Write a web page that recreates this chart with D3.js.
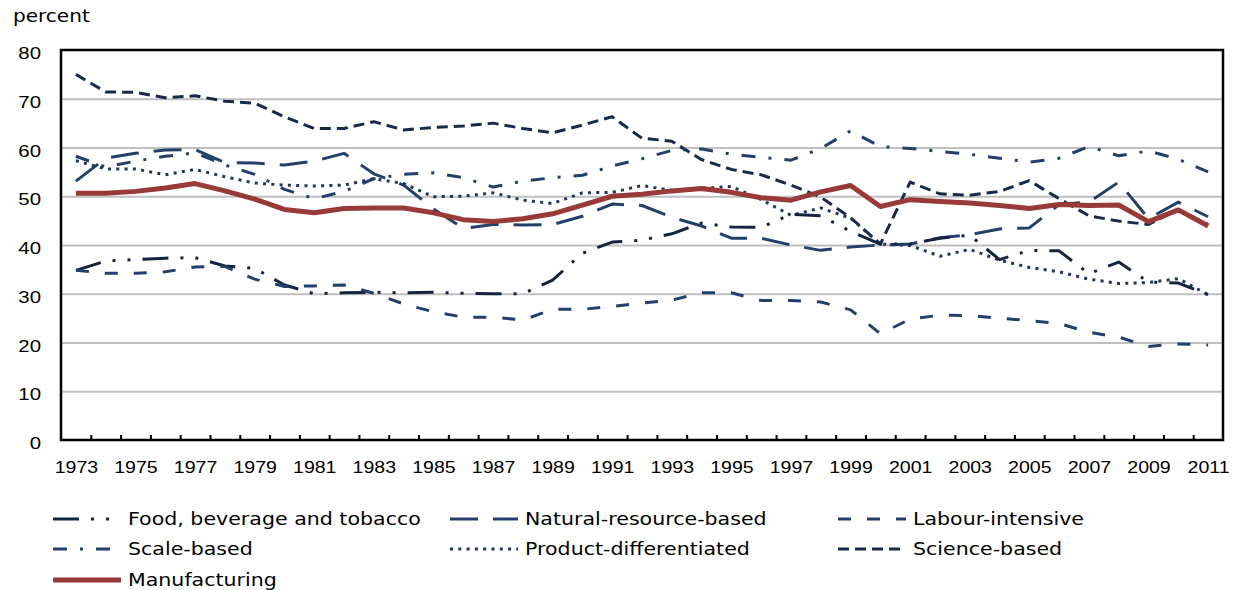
<!DOCTYPE html>
<html>
<head>
<meta charset="utf-8">
<script src="https://cdn.jsdelivr.net/npm/d3@7"></script>
<style>
  body { margin: 0; background: #fff; }
  svg { font-family: "DejaVu Sans", Verdana, sans-serif; }
  text { fill: #000; }
  .sx-l { transform-box: fill-box; transform-origin: 0 50%; transform: scaleX(1.18); }
  .sx-g { transform-box: fill-box; transform-origin: 0 50%; transform: scaleX(1.21); }
  .sx-c { transform-box: fill-box; transform-origin: 50% 50%; transform: scaleX(1.15); }
  .sx-r { transform-box: fill-box; transform-origin: 100% 50%; transform: scaleX(1.2); }
</style>
</head>
<body>
<svg id="chart" width="1234" height="590"></svg>
<script>
const years = [1973, 1974, 1975, 1976, 1977, 1978, 1979, 1980, 1981, 1982,
  1983, 1984, 1985, 1986, 1987, 1988, 1989, 1990, 1991, 1992,
  1993, 1994, 1995, 1996, 1997, 1998, 1999, 2000, 2001, 2002,
  2003, 2004, 2005, 2006, 2007, 2008, 2009, 2010, 2011];

const yearLabels = [1973, 1975, 1977, 1979, 1981, 1983, 1985, 1987, 1989, 1991,
  1993, 1995, 1997, 1999, 2001, 2003, 2005, 2007, 2009, 2011];
const yTicks = [0, 10, 20, 30, 40, 50, 60, 70, 80];

// percent, one value per year
const food = [34.8, 36.7, 37.0, 37.3, 37.4, 35.7, 35.2, 31.8, 30.0, 30.2,
  30.3, 30.2, 30.3, 30.1, 30.0, 30.0, 32.8, 38.3, 40.6, 41.0,
  42.3, 44.5, 43.7, 43.6, 46.3, 46.0, 42.8, 40.2, 40.2, 41.4,
  42.0, 37.0, 38.9, 38.8, 34.1, 36.5, 32.4, 32.2, 29.8];
const naturalRes = [53.1, 57.8, 58.8, 59.5, 59.6, 56.9, 56.8, 56.4, 57.2, 58.8,
  54.6, 52.3, 47.4, 43.4, 44.2, 44.1, 44.2, 45.9, 48.4, 48.1,
  45.7, 43.9, 41.4, 41.4, 40.0, 38.9, 39.6, 40.0, 40.2, 41.5,
  42.1, 43.3, 43.5, 48.3, 48.8, 52.9, 45.4, 48.8, 45.8];
const labour = [34.8, 34.2, 34.2, 34.5, 35.5, 35.6, 33.0, 31.5, 31.6, 31.8,
  30.1, 27.9, 26.3, 25.2, 25.2, 24.6, 26.8, 26.8, 27.4, 28.1,
  28.7, 30.2, 30.2, 28.6, 28.6, 28.3, 26.7, 21.8, 24.8, 25.6,
  25.5, 25.0, 24.5, 23.9, 22.1, 21.1, 19.2, 19.7, 19.5];
const scaleBased = [58.2, 56.0, 57.2, 58.2, 58.9, 56.4, 54.5, 51.4, 49.5, 51.0,
  53.6, 54.5, 54.8, 53.8, 51.9, 53.1, 53.8, 54.3, 56.2, 57.7,
  59.4, 59.7, 58.6, 58.0, 57.4, 59.8, 63.4, 60.2, 59.8, 59.2,
  58.6, 57.8, 57.0, 57.8, 60.2, 58.3, 59.3, 57.6, 55.0];
const productDiff = [57.3, 55.6, 55.6, 54.4, 55.5, 54.0, 52.7, 52.3, 52.1, 52.3,
  53.6, 52.6, 49.9, 50.0, 50.7, 49.2, 48.5, 50.7, 50.8, 52.2,
  51.2, 51.6, 52.0, 49.3, 46.1, 47.6, 45.5, 40.2, 39.9, 37.7,
  39.1, 36.9, 35.4, 34.5, 33.0, 32.1, 32.3, 33.1, 29.8];
const science = [75.0, 71.4, 71.3, 70.2, 70.6, 69.5, 69.1, 66.3, 63.9, 63.9,
  65.3, 63.6, 64.1, 64.4, 65.0, 63.9, 63.0, 64.6, 66.3, 61.9,
  61.3, 57.5, 55.5, 54.4, 52.3, 49.8, 45.6, 40.2, 52.9, 50.5,
  50.2, 51.0, 53.2, 49.5, 46.0, 44.9, 44.2, 47.3, 44.2];
const manufacturing = [50.6, 50.6, 51.0, 51.7, 52.6, 51.1, 49.4, 47.3, 46.6, 47.5,
  47.6, 47.6, 46.6, 45.2, 44.8, 45.4, 46.4, 48.2, 50.0, 50.4,
  51.1, 51.6, 50.8, 49.7, 49.2, 50.9, 52.2, 47.9, 49.3, 48.9,
  48.6, 48.1, 47.5, 48.3, 48.1, 48.2, 44.8, 47.2, 43.9];

const series = [
  { name: 'Science-based', values: science, color: '#172a4a', width: 3, dash: '11,6', col: 2, row: 1 },
  { name: 'Scale-based', values: scaleBased, color: '#22406a', width: 3, dash: '14,13,3,13', col: 0, row: 1 },
  { name: 'Natural-resource-based', values: naturalRes, color: '#22406a', width: 3, dash: '28,15', col: 1, row: 0 },
  { name: 'Product-differentiated', values: productDiff, color: '#1c3660', width: 3, dash: '3,5.3', col: 1, row: 1 },
  { name: 'Food, beverage and tobacco', values: food, color: '#14243f', width: 3, dash: '26,12,3,12,3,12', col: 0, row: 0 },
  { name: 'Labour-intensive', values: labour, color: '#22406a', width: 3, dash: '13,16', col: 2, row: 0 },
  { name: 'Manufacturing', values: manufacturing, color: '#983a37', width: 5, dash: null, col: 0, row: 2 },
];

const svg = d3.select('#chart');
const plot = { left: 61, right: 1223, top: 50, bottom: 440 };

const xScale = d3.scaleLinear()
  .domain([years[0] - 0.5, years[years.length - 1] + 0.5])
  .range([plot.left, plot.right]);
const yScale = d3.scaleLinear().domain([0, 80]).range([plot.bottom, plot.top]);

// gridlines
svg.append('g')
  .attr('transform', `translate(${plot.left},0)`)
  .call(d3.axisLeft(yScale).tickValues(yTicks.filter(d => d > 0 && d < 80))
    .tickSize(-(plot.right - plot.left)).tickFormat(''))
  .call(g => g.select('.domain').remove())
  .selectAll('line').attr('stroke', '#c0c0c0').attr('stroke-width', 2);

// y labels
svg.append('g')
  .attr('transform', `translate(${plot.left},0)`)
  .call(d3.axisLeft(yScale).tickValues(yTicks).tickSize(0).tickPadding(20))
  .call(g => g.select('.domain').remove())
  .selectAll('text')
  .attr('font-size', 17).attr('font-family', null).attr('dy', '0.5em')
  .attr('class', 'sx-r');

// x tick marks at year boundaries, pointing inward
svg.append('g')
  .attr('transform', `translate(0,${plot.bottom})`)
  .call(d3.axisBottom(xScale).tickValues(years.slice(1).map(d => d - 0.5))
    .tickSize(-5).tickFormat(''))
  .call(g => g.select('.domain').remove())
  .selectAll('line').attr('stroke', '#000').attr('stroke-width', 2);

// x labels
svg.append('g')
  .attr('transform', `translate(0,${plot.bottom})`)
  .call(d3.axisBottom(xScale).tickValues(yearLabels).tickSize(0).tickPadding(21)
    .tickFormat(d3.format('d')))
  .call(g => g.select('.domain').remove())
  .selectAll('text')
  .attr('font-size', 17).attr('font-family', null)
  .attr('class', 'sx-c');

svg.append('text')
  .attr('x', 13).attr('y', 22)
  .attr('font-size', 17)
  .attr('class', 'sx-l')
  .text('percent');

// series lines
const line = d3.line()
  .x((d, i) => xScale(years[i]))
  .y(d => yScale(d));

svg.append('g').selectAll('path')
  .data(series)
  .join('path')
  .attr('d', d => line(d.values))
  .attr('fill', 'none')
  .attr('stroke', d => d.color)
  .attr('stroke-width', d => d.width)
  .attr('stroke-dasharray', d => d.dash)
  .attr('stroke-linejoin', 'round');

// frame
svg.append('rect')
  .attr('x', plot.left).attr('y', plot.top)
  .attr('width', plot.right - plot.left).attr('height', plot.bottom - plot.top)
  .attr('fill', 'none').attr('stroke', '#000').attr('stroke-width', 2.5);

// legend
const colX = [53, 450, 838];
const rowY = [519, 549, 580];
const legend = svg.append('g').selectAll('g')
  .data(series)
  .join('g')
  .attr('transform', d => `translate(${colX[d.col]},${rowY[d.row]})`);

legend.append('line')
  .attr('x1', 0).attr('x2', 68)
  .attr('stroke', d => d.color)
  .attr('stroke-width', d => d.width)
  .attr('stroke-dasharray', d => d.dash);

legend.append('text')
  .attr('x', 75).attr('dy', '0.36em')
  .attr('font-size', 17)
  .attr('class', 'sx-g')
  .text(d => d.name);
</script>
</body>
</html>
